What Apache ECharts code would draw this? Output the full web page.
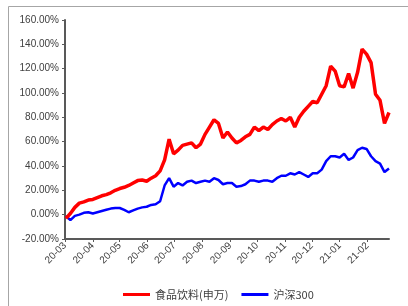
<!DOCTYPE html>
<html>
<head>
<meta charset="utf-8">
<script src="https://cdn.jsdelivr.net/npm/echarts@6/dist/echarts.min.js"></script>
<style>
  html, body { margin: 0; padding: 0; background: #fff; }
  #main { width: 408px; height: 306px; }
</style>
</head>
<body>
<div id="main"></div>
<script>
// 取样日期（约每5天一个点）
var dates = [
  '2020-03-02', '2020-03-07', '2020-03-12', '2020-03-17', '2020-03-22', '2020-03-27',
  '2020-04-01', '2020-04-06', '2020-04-11', '2020-04-16', '2020-04-21', '2020-04-26',
  '2020-05-01', '2020-05-06', '2020-05-11', '2020-05-16', '2020-05-21', '2020-05-26', '2020-05-31',
  '2020-06-05', '2020-06-10', '2020-06-15', '2020-06-20', '2020-06-25', '2020-06-30',
  '2020-07-05', '2020-07-10', '2020-07-15', '2020-07-20', '2020-07-25', '2020-07-30',
  '2020-08-04', '2020-08-09', '2020-08-14', '2020-08-19', '2020-08-24', '2020-08-29',
  '2020-09-03', '2020-09-08', '2020-09-13', '2020-09-18', '2020-09-23', '2020-09-28',
  '2020-10-03', '2020-10-08', '2020-10-13', '2020-10-18', '2020-10-23', '2020-10-28',
  '2020-11-02', '2020-11-07', '2020-11-12', '2020-11-17', '2020-11-22', '2020-11-27',
  '2020-12-02', '2020-12-07', '2020-12-12', '2020-12-17', '2020-12-22', '2020-12-27',
  '2021-01-01', '2021-01-06', '2021-01-11', '2021-01-16', '2021-01-21', '2021-01-26', '2021-01-31',
  '2021-02-05', '2021-02-10', '2021-02-15', '2021-02-20', '2021-02-25'
]

// 食品饮料(申万) 累计涨幅 %
var foodValues = [
  -3, 1, 6, 9.5, 10.5, 12,
  12.5, 14, 15.5, 16.5, 18, 20,
  21.5, 22.5, 24, 26, 28, 28.5, 27.5,
  30, 32, 36, 45, 62, 50,
  53, 57, 58, 59, 55, 58,
  66, 72, 78, 75, 63, 68,
  63, 59, 61, 64, 66, 72,
  69, 72, 70, 74, 77, 79,
  77, 80, 72, 80, 85, 89,
  93, 92, 99, 106, 122, 118,
  106, 105, 116, 104, 117, 136, 132,
  125, 99, 94, 75, 84
]

// 沪深300 累计涨幅 %
var hs300Values = [
  -1, -4.5, -1, 0, 1.5, 2,
  1, 2, 3, 4, 5, 5.5,
  5.5, 4, 2, 3.5, 5, 6, 6.5,
  8, 8.5, 11, 24, 30, 23,
  26, 24, 27, 28, 26, 27,
  28, 27, 30, 28.5, 25, 26,
  26, 23, 23.5, 25, 28, 28,
  27, 28, 28, 27, 30, 32,
  32, 34, 33, 35, 33, 31,
  34, 34, 37, 44, 48, 48,
  47, 50, 45, 47, 53, 55, 54,
  48, 44, 42, 35, 38
]

var seriesNames = ['食品饮料(申万)', '沪深300']
var seriesColors = ['#ff0000', '#0000ff']

function pairUp(vals) {
  return vals.map(function (v, i) { return [dates[i], v] })
}

var chart = echarts.init(document.getElementById('main'), null, { renderer: 'canvas' })

var axisColor = '#595959'
var labelColor = '#404040'

chart.setOption({
  animation: false,
  backgroundColor: '#fff',
  graphic: [{
    type: 'rect',
    shape: { x: 8.5, y: 6.5, width: 420, height: 320 },
    style: { fill: 'none', stroke: '#a6a6a6', lineWidth: 1 },
    silent: true,
    z: -1
  }],
  grid: { left: 65, right: 19, top: 20, bottom: 67, containLabel: false },
  legend: {
    left: 118,
    top: 284,
    itemWidth: 27,
    itemHeight: 3,
    itemGap: 13,
    icon: 'rect',
    textStyle: { fontSize: 11, color: labelColor, fontFamily: 'Noto Sans CJK SC' },
    data: seriesNames
  },
  xAxis: {
    type: 'time',
    min: '2020-03-01',
    max: '2021-02-25',
    minInterval: 28 * 86400000,
    maxInterval: 31 * 86400000,
    axisLine: { onZero: false, lineStyle: { color: axisColor, width: 2 } },
    axisTick: { show: true, length: 3, lineStyle: { color: axisColor, width: 1 } },
    splitLine: { show: false },
    axisLabel: {
      rotate: 45,
      margin: 5,
      fontSize: 10,
      color: labelColor,
      fontFamily: 'Liberation Sans',
      hideOverlap: false,
      showMaxLabel: false,
      formatter: '{yy}-{MM}'
    }
  },
  yAxis: {
    type: 'value',
    min: -20,
    max: 160,
    interval: 20,
    axisLine: { show: true, lineStyle: { color: axisColor, width: 2 } },
    axisTick: { show: true, length: 3, lineStyle: { color: axisColor, width: 1 } },
    splitLine: { show: false },
    axisLabel: {
      margin: 6,
      fontSize: 10,
      color: labelColor,
      fontFamily: 'Liberation Sans',
      formatter: function (v) { return v.toFixed(2) + '%' }
    }
  },
  series: [
    {
      name: seriesNames[0],
      type: 'line',
      showSymbol: false,
      data: pairUp(foodValues),
      lineStyle: { color: seriesColors[0], width: 3.5 },
      itemStyle: { color: seriesColors[0] },
      z: 3
    },
    {
      name: seriesNames[1],
      type: 'line',
      showSymbol: false,
      data: pairUp(hs300Values),
      lineStyle: { color: seriesColors[1], width: 2.5 },
      itemStyle: { color: seriesColors[1] },
      z: 2
    }
  ]
})
</script>
</body>
</html>
